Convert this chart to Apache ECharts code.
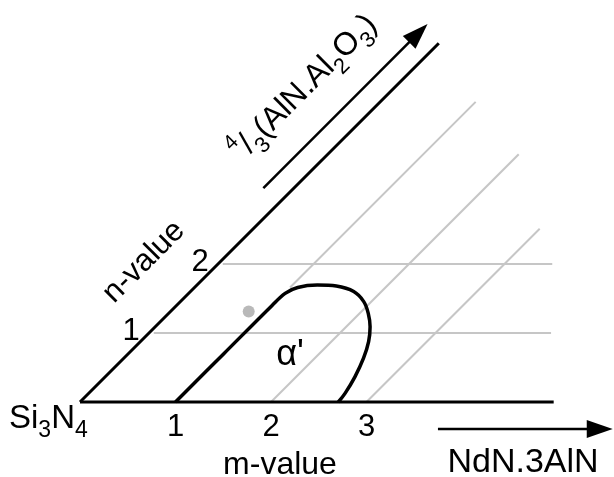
<!DOCTYPE html>
<html><head><meta charset="utf-8">
<script src="https://cdn.jsdelivr.net/npm/echarts@6/dist/echarts.min.js"></script>
<style>html,body{margin:0;padding:0;background:#fff}#c{width:614px;height:477px}</style>
</head><body><div id="c"></div>
<script>
// ---- data, in (m, n) composition units ----
const mTicks = [1, 2, 3];
const nTicks = [1, 2];
const baseLine = [[0, 0], [4.96, 0]];
const nEdge = [[0, 0], [0, 5.2]];
const nGridLines = [[[0.05, 1], [4.21, 1]], [[0.05, 2], [3.50, 2]]];
const mGridLines = [[[1, 1.66], [1, 4.35]], [[2, 0], [2, 3.59]], [[3, 0], [3, 2.51]]];
const alphaBoundary = [[1, 0], [1, 0.7], [1, 1.40], [1.01, 1.575], [1.08, 1.66], [1.26, 1.695], [1.47, 1.68],
  [1.71, 1.60], [1.92, 1.455], [2.09, 1.285], [2.25, 1.09], [2.39, 0.875], [2.51, 0.635],
  [2.615, 0.365], [2.685, 0.125], [2.705, 0]];
const greyPoint = [0.82, 1.31];
const nArrow = [[-0.32, 3.10], [-0.32, 5.48]];
const mArrow = [[4.03, -0.39], [5.86, -0.39]];

// ---- layout: skewed (m, n) -> cartesian ----
const X0 = 80, MX = 95.5, NX = 69, Y0 = 75, NY = 69;
const P = ([m, n]) => [X0 + MX * m + NX * n, Y0 + NY * n];

const FONT = 'Liberation Sans, Arial, sans-serif';
const BLACK = '#000';
const GREY = '#c6c6c6';

function lineSeries(pts, color, width, extra) {
  return Object.assign({
    type: 'line', data: pts.map(P), showSymbol: false, symbol: 'none', silent: true,
    lineStyle: { color: color, width: width, opacity: 1 }, animation: false, z: color === GREY ? 2 : 3
  }, extra || {});
}
function head(arrow, len) {
  const s = P(arrow[0]), t = P(arrow[1]);
  const dx = t[0] - s[0], dy = t[1] - s[1], L = Math.hypot(dx, dy);
  const ux = dx / L, uy = dy / L;
  return { value: [t[0] - ux * len / 2, t[1] - uy * len / 2], symbolRotate: Math.atan2(uy, ux) * 180 / Math.PI - 90 };
}
function shaft(arrow, len) {
  const s = P(arrow[0]), t = P(arrow[1]);
  const dx = t[0] - s[0], dy = t[1] - s[1], L = Math.hypot(dx, dy);
  return [s, [t[0] - dx / L * len * 0.6, t[1] - dy / L * len * 0.6]];
}

const series = [];
nGridLines.forEach(l => series.push(lineSeries(l, GREY, 2)));
mGridLines.forEach(l => series.push(lineSeries(l, GREY, 2)));
series.push(lineSeries(baseLine, BLACK, 3));
series.push(lineSeries(nEdge, BLACK, 3));
series.push(lineSeries(alphaBoundary, BLACK, 3.5, { smooth: 0.35 }));
series.push({ type: 'line', data: shaft(nArrow, 26), showSymbol: false, symbol: 'none', silent: true,
  lineStyle: { color: BLACK, width: 2.5 }, animation: false, z: 3 });
series.push({ type: 'line', data: shaft(mArrow, 26), showSymbol: false, symbol: 'none', silent: true,
  lineStyle: { color: BLACK, width: 2.5 }, animation: false, z: 3 });
series.push({ type: 'scatter', symbol: 'triangle', symbolSize: [18, 26], silent: true, animation: false, z: 4,
  itemStyle: { color: BLACK, opacity: 1 }, data: [head(nArrow, 26), head(mArrow, 26)] });
series.push({ type: 'scatter', symbol: 'circle', symbolSize: 12, silent: true, animation: false, z: 4,
  itemStyle: { color: '#b9b9b9', opacity: 1 }, data: [P(greyPoint)] });
series.push({ type: 'scatter', symbolSize: 0, silent: true, animation: false,
  itemStyle: { opacity: 1 },
  data: mTicks.map(m => ({ value: P([m, 0]), name: String(m) })),
  label: { show: true, position: 'inside', offset: [0, 25], formatter: '{b}', color: BLACK, opacity: 1,
    textBorderWidth: 0, fontFamily: FONT, fontSize: 31 } });
series.push({ type: 'scatter', symbolSize: 0, silent: true, animation: false,
  itemStyle: { opacity: 1 },
  data: nTicks.map(n => ({ value: P([0, n]), name: String(n) })),
  label: { show: true, position: 'inside', offset: [-18, -2], formatter: '{b}', color: BLACK, opacity: 1,
    textBorderWidth: 0, fontFamily: FONT, fontSize: 31 } });

const chart = echarts.init(document.getElementById('c'), null, { renderer: 'canvas' });
chart.setOption({
  backgroundColor: '#fff',
  animation: false,
  grid: { left: 0, right: 0, top: 0, bottom: 0 },
  xAxis: { type: 'value', min: 0, max: 614, show: false },
  yAxis: { type: 'value', min: 0, max: 477, show: false },
  series: series,
  graphic: [
    { type: 'text', x: 9, y: 419, silent: true, style: {
      text: '{a|Si}{s|3}{a|N}{s|4}', align: 'left', verticalAlign: 'middle', fill: BLACK,
      rich: { a: { fontFamily: FONT, fontSize: 33, lineHeight: 46 }, s: { fontFamily: FONT, fontSize: 23, lineHeight: 22, verticalAlign: 'bottom' } } } },
    { type: 'text', x: 280, y: 465, silent: true, style: {
      text: 'm-value', align: 'center', verticalAlign: 'middle', fill: BLACK, font: '32px ' + FONT } },
    { type: 'text', x: 523, y: 463, silent: true, style: {
      text: 'NdN.3AlN', align: 'center', verticalAlign: 'middle', fill: BLACK, font: '34px ' + FONT } },
    { type: 'text', x: 144, y: 262, rotation: Math.PI / 4, silent: true, style: {
      text: 'n-value', align: 'center', verticalAlign: 'middle', fill: BLACK, font: '31px ' + FONT } },
    { type: 'text', x: 304, y: 88, rotation: Math.PI / 4, silent: true, style: {
      text: '{u|4}{a|/}{d|3}{a|(AlN.Al}{d|2}{a|O}{d|3}{a|)}', align: 'center', verticalAlign: 'middle', fill: BLACK,
      rich: { a: { fontFamily: FONT, fontSize: 32, lineHeight: 46 },
              u: { fontFamily: FONT, fontSize: 21, lineHeight: 32, verticalAlign: 'top' },
              d: { fontFamily: FONT, fontSize: 22, lineHeight: 22, verticalAlign: 'bottom' } } } },
    { type: 'text', x: 290, y: 355, silent: true, style: {
      text: "α'", align: 'center', verticalAlign: 'middle', fill: BLACK, font: '36px ' + FONT } }
  ]
});
</script></body></html>
